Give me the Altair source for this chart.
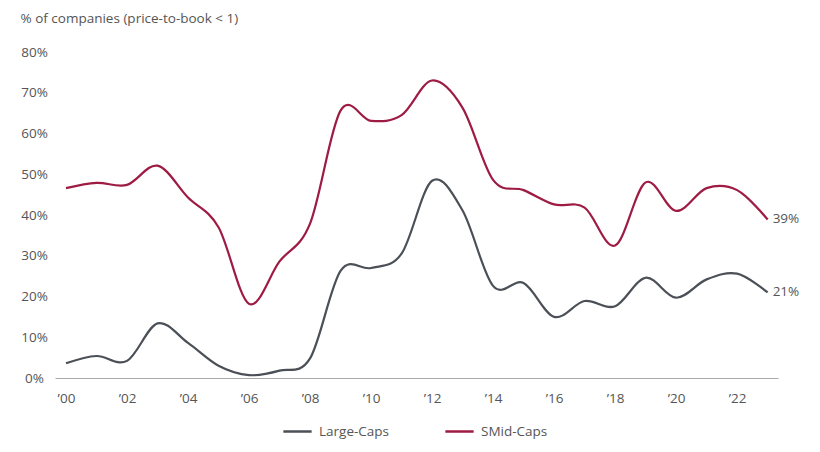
import altair as alt
import pandas as pd

years = list(range(2000, 2024))
large_caps = [3.6, 5.4, 4.2, 13.4, 8.6, 3.0, 0.7, 1.8, 4.8, 26.3, 27.0, 30.5,
              48.4, 41.1, 22.6, 23.3, 15.0, 18.9, 17.6, 24.6, 19.7, 24.2, 25.6, 21.0]
smid_caps = [46.6, 47.9, 47.4, 52.1, 44.3, 37.0, 18.2, 28.6, 37.9, 65.6, 63.1, 64.5,
             73.0, 66.3, 48.6, 46.1, 42.6, 41.8, 32.5, 48.0, 41.0, 46.6, 46.1, 38.9]
series_names = ["Large-Caps", "SMid-Caps"]
series_colors = ["#4b5057", "#9e1b43"]
end_labels = ["21%", "39%"]
y_ticks = [0, 10, 20, 30, 40, 50, 60, 70, 80]
x_ticks = [2000, 2002, 2004, 2006, 2008, 2010, 2012, 2014, 2016, 2018, 2020, 2022]

rows = []
for y, a, b in zip(years, large_caps, smid_caps):
    rows.append({"year": y, "series": series_names[0], "value": a})
    rows.append({"year": y, "series": series_names[1], "value": b})
df = pd.DataFrame(rows)

end_df = pd.DataFrame({
    "year": [years[-1], years[-1]],
    "series": series_names,
    "value": [large_caps[-1], smid_caps[-1]],
    "label": end_labels,
})

FONT = "Open Sans"
TXT = "#555555"
FS = 13.5

x_enc = alt.X(
    "year:Q",
    scale=alt.Scale(domain=[1999.64, 2023.34], nice=False, zero=False),
    axis=alt.Axis(
        values=x_ticks,
        labelExpr="'\u2019' + slice(toString(datum.value), 2)",
        title=None, grid=False, ticks=False, domain=True,
        domainColor="#a8a8a8", domainWidth=1,
        labelColor=TXT, labelFont=FONT, labelFontSize=FS, labelPadding=13,
    ),
)
y_enc = alt.Y(
    "value:Q",
    scale=alt.Scale(domain=[0, 80], nice=False),
    axis=alt.Axis(
        values=y_ticks,
        labelExpr="datum.value + '%'",
        title="% of companies (price-to-book < 1)",
        titleAngle=0, titleAlign="left", titleBaseline="middle",
        titleX=-35, titleY=-34, titleFont=FONT, titleFontSize=FS,
        titleFontWeight="normal", titleColor=TXT,
        grid=False, ticks=False, domain=False,
        labelColor=TXT, labelFont=FONT, labelFontSize=FS,
        labelAlign="center", labelPadding=21,
    ),
)
color_enc = alt.Color(
    "series:N",
    scale=alt.Scale(domain=series_names, range=series_colors),
    legend=alt.Legend(
        title=None, orient="none", direction="horizontal",
        legendX=227, legendY=364,
        symbolType="stroke", symbolSize=800, symbolStrokeWidth=2.5,
        labelFont=FONT, labelFontSize=FS, labelColor=TXT,
        columnPadding=50, labelOffset=6,
    ),
)

lines = alt.Chart(df).mark_line(interpolate="cardinal", strokeWidth=2.2).encode(
    x=x_enc, y=y_enc, color=color_enc
)
labels = alt.Chart(end_df).mark_text(
    align="left", baseline="middle", dx=5, font=FONT, fontSize=FS, color=TXT
).encode(x="year:Q", y="value:Q", text="label:N")

chart = (lines + labels).properties(
    width=723, height=326,
    autosize=alt.AutoSizeParams(type="none"),
    padding={"left": 47, "top": 44, "right": 34, "bottom": 66},
    background="white",
).configure_view(stroke=None)

chart.save("out.html", embed_options={"renderer": "svg", "actions": False})
